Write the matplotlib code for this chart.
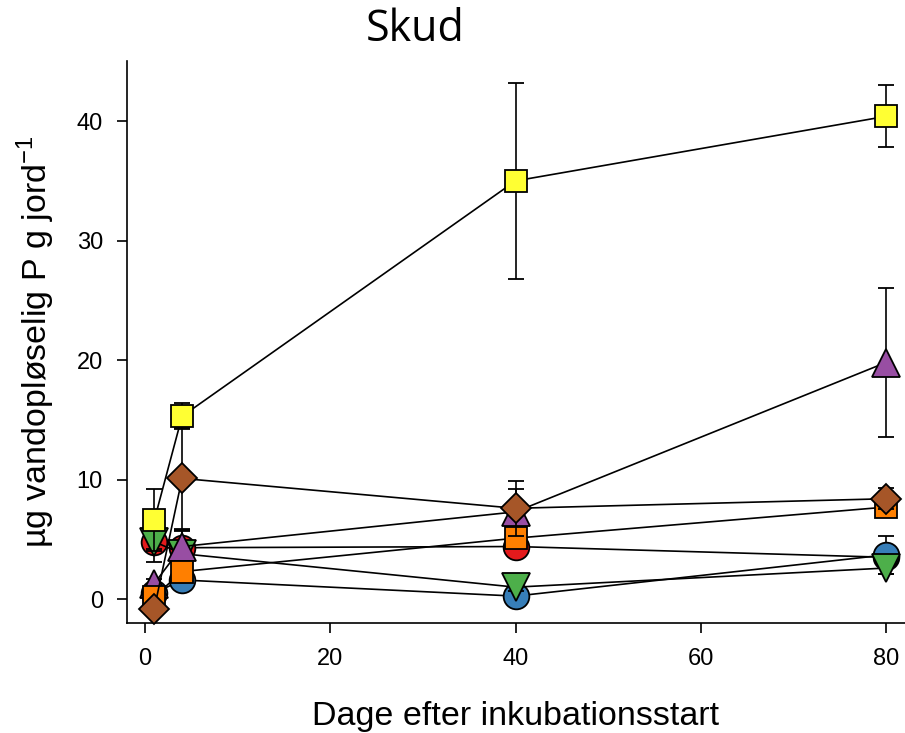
import matplotlib
matplotlib.use("Agg")
import matplotlib.pyplot as plt

plt.rcParams['font.family'] = ['Liberation Sans', 'DejaVu Sans']
plt.rcParams['mathtext.fontset'] = 'custom'
plt.rcParams['mathtext.rm'] = 'Liberation Sans'

days = [1, 4, 40, 80]

# Each treatment: mean values and standard errors per sampling day
red_mean = [4.8, 4.3, 4.4, 3.5]
red_err = [1.7, 1.4, 0.6, 0.5]
blue_mean = [0.5, 1.6, 0.25, 3.7]
blue_err = [0.4, 0.4, 0.2, 1.6]
green_mean = [4.8, 3.8, 1.0, 2.6]
green_err = [0.6, 0.5, 0.3, 0.5]
yellow_mean = [6.6, 15.3, 35.0, 40.4]
yellow_err = [2.6, 1.1, 8.2, 2.6]
purple_mean = [1.3, 4.4, 7.3, 19.8]
purple_err = [0.4, 1.4, 1.9, 6.2]
orange_mean = [0.2, 2.3, 5.1, 7.7]
orange_err = [0.3, 0.4, 0.5, 0.6]
brown_mean = [-0.8, 10.1, 7.6, 8.4]
brown_err = [0.3, 4.2, 2.3, 0.9]

series = [
    (red_mean, red_err, 'o', '#E41A1C', 18.5),
    (blue_mean, blue_err, 'o', '#377EB8', 18.5),
    (green_mean, green_err, 'v', '#4DAF4A', 19.5),
    (yellow_mean, yellow_err, 's', '#FFFF33', 16.5),
    (purple_mean, purple_err, '^', '#984EA3', 19.5),
    (orange_mean, orange_err, 's', '#FF7F00', 16.5),
    (brown_mean, brown_err, 'D', '#A65628', 15),
]

fig = plt.figure(figsize=(9.05, 7.33), dpi=100)
ax = fig.add_axes([126.5 / 905, 110 / 733, (904.5 - 126.5) / 905, 561.6 / 733])

for i, (m, e, mk, col, ms) in enumerate(series):
    ax.errorbar(days, m, yerr=e, fmt='-', color='black', lw=1.2,
                elinewidth=1.2, capsize=6, capthick=1.2,
                marker=mk, markersize=ms, markerfacecolor=col,
                markeredgecolor='black', markeredgewidth=1.3,
                zorder=3 + i, clip_on=False)

ax.set_xlim(-2, 82)
ax.set_ylim(-2, 45)
ax.set_xticks([0, 20, 40, 60, 80])
ax.set_yticks([0, 10, 20, 30, 40])
ax.spines['top'].set_visible(False)
ax.spines['right'].set_visible(False)
for s in ('left', 'bottom'):
    ax.spines[s].set_linewidth(1.2)
ax.tick_params(direction='out', length=7, width=1.2, labelsize=17)
ax.tick_params(axis='x', pad=11)
ax.tick_params(axis='y', pad=10)

ax.set_xlabel('Dage efter inkubationsstart', fontsize=24.5, labelpad=22)
ax.set_ylabel(r'µg vandopløselig P g jord$^{\mathregular{-1}}$', fontsize=24.5, labelpad=14)

fig.text(415 / 905, 1 - 30 / 733, 'Skud', fontsize=31, family='Open Sans',
         ha='center', va='center')

fig.savefig('out.png', dpi=100)
